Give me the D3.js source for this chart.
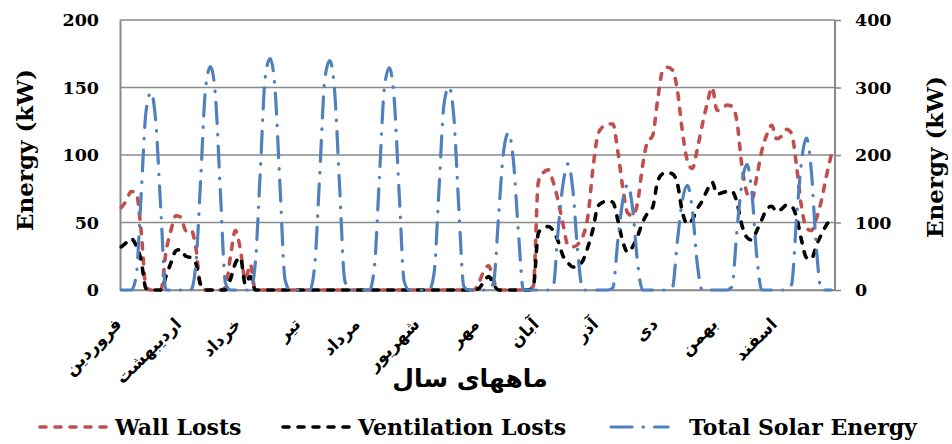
<!DOCTYPE html>
<html>
<head>
<meta charset="utf-8">
<script src="https://cdn.jsdelivr.net/npm/d3@7"></script>
<style>
  html, body { margin: 0; padding: 0; background: #fff; }
  svg { display: block; }
</style>
</head>
<body>
<svg id="chart" width="952" height="444"></svg>
<script>
// ---------- DATA ----------
const months = ["فروردین","اردیبهشت","خرداد","تیر","مرداد","شهریور","مهر","آبان","آذر","دی","بهمن","اسفند"];
const hours = [0,2,4,6,8,10,12,14,16,18,20,22];
const leftTicks = [0,50,100,150,200];
const rightTicks = [0,100,200,300,400];
const seriesNames = ["Wall Losts","Ventilation Losts","Total Solar Energy"];
const xTitle = "ماههای سال";
const yTitle = "Energy (kW)";

// Wall Losts (kW, left axis), 12 samples per month
const wallLosts = [
  61,66,73,72,44,2,0,0,0,28,44,55,
  54,44,45,32,3,0,0,0,0,2,25,44,
  30,7,19,0,0,0,0,0,0,0,0,0,
  0,0,0,0,0,0,0,0,0,0,0,0,
  0,0,0,0,0,0,0,0,0,0,0,0,
  0,0,0,0,0,0,0,0,0,0,0,0,
  5,14,18,7,0,0,0,0,0,0,0,3,
  80,87,89,80,66,48,33,32,34,40,55,90,
  115,121,123,123,103,76,57,55,65,92,110,114,
  140,162,165,163,148,118,96,90,104,122,138,150,
  133,134,137,136,125,92,72,67,84,103,115,122,
  112,114,119,116,92,62,46,44,53,66,84,100
];
// Ventilation Losts (kW, left axis)
const ventilationLosts = [
  32,35,38,33,22,1,0,0,0,10,20,29,
  30,25,24,20,4,0,0,0,0,0,8,20,
  24,4,10,0,0,0,0,0,0,0,0,0,
  0,0,0,0,0,0,0,0,0,0,0,0,
  0,0,0,0,0,0,0,0,0,0,0,0,
  0,0,0,0,0,0,0,0,0,0,0,0,
  1,6,10,4,0,0,0,0,0,0,0,3,
  42,46,47,44,36,25,20,17,18,22,32,45,
  62,65,66,65,52,36,28,32,40,50,57,61,
  80,86,87,86,79,58,49,52,60,66,74,80,
  71,72,73,73,65,48,39,37,44,52,60,62,
  58,60,63,62,54,37,24,23,33,41,48,53
];
// Total Solar Energy (kW, right axis)
const solarEnergy = [
  0,0,0,20,140,265,293,245,115,0,0,0,
  0,0,0,35,165,300,331,285,140,10,0,0,
  0,0,0,40,175,315,343,295,150,15,0,0,
  0,0,0,40,175,312,340,292,150,15,0,0,
  0,0,0,35,168,300,329,280,140,12,0,0,
  0,0,0,25,150,275,301,255,120,5,0,0,
  0,0,0,12,110,205,233,190,85,0,0,0,
  0,0,0,5,90,158,187,145,50,0,0,0,
  0,0,0,3,72,132,156,120,40,0,0,0,
  0,0,0,3,72,132,155,120,40,0,0,0,
  0,0,0,5,88,158,186,145,50,0,0,0,
  0,0,0,8,105,190,225,175,62,0,0,0
];

// ---------- CHART ----------
const svg = d3.select("#chart");
const X0 = 120, X1 = 835, Y0 = 20, Y1 = 290;
const x = d3.scaleLinear().domain([0, months.length * 24]).range([X0, X1]);
const yL = d3.scaleLinear().domain([0, 200]).range([Y1, Y0]);
const yR = d3.scaleLinear().domain([0, 400]).range([Y1, Y0]);
const gridColor = "#8a8a8a";

// gridlines
svg.append("g").selectAll("line").data(leftTicks).join("line")
  .attr("x1", X0).attr("x2", X1)
  .attr("y1", d => yL(d)).attr("y2", d => yL(d))
  .attr("stroke", gridColor).attr("stroke-width", 1.6);

// left axis
const gL = svg.append("g").attr("transform", `translate(${X0},0)`)
  .call(d3.axisLeft(yL).tickValues(leftTicks).tickSize(0).tickPadding(21));
gL.select(".domain").attr("stroke", gridColor).attr("stroke-width", 2);
gL.selectAll("text").attr("font-family", "DejaVu Serif").attr("font-weight", "bold")
  .attr("font-size", 17.5).attr("fill", "#000");

// right axis
const gR = svg.append("g").attr("transform", `translate(${X1},0)`)
  .call(d3.axisRight(yR).tickValues(rightTicks).tickSize(6).tickPadding(14));
gR.select(".domain").attr("stroke", gridColor).attr("stroke-width", 2).attr("d", `M0,${Y0}V${Y1}`);
gR.selectAll(".tick line").attr("stroke", gridColor).attr("stroke-width", 1.6);
gR.selectAll("text").attr("font-family", "DejaVu Serif").attr("font-weight", "bold")
  .attr("font-size", 17.5).attr("fill", "#000");

// bottom axis (category labels rotated)
const gB = svg.append("g").attr("transform", `translate(0,${Y1})`)
  .call(d3.axisBottom(x).tickValues(months.map((m, i) => i * 24)).tickFormat((d, i) => months[i]).tickSize(0));
gB.select(".domain").attr("stroke", gridColor).attr("stroke-width", 1.6);
gB.selectAll(".tick text")
  .attr("font-family", "DejaVu Sans").attr("font-weight", "bold").attr("font-size", 17).attr("fill", "#000")
  .attr("text-anchor", "end").attr("dy", "0.35em")
  .attr("transform", "translate(-2,31) rotate(-45)")
  .attr("y", 0).attr("x", 0);

// axis titles
svg.append("text").attr("transform", "translate(33,150) rotate(-90)")
  .attr("text-anchor", "middle").attr("font-family", "DejaVu Serif").attr("font-weight", "bold")
  .attr("font-size", 23).text(yTitle);
svg.append("text").attr("transform", "translate(943,157) rotate(-90)")
  .attr("text-anchor", "middle").attr("font-family", "DejaVu Serif").attr("font-weight", "bold")
  .attr("font-size", 23).text(yTitle);
svg.append("text").attr("x", 470).attr("y", 387)
  .attr("text-anchor", "middle").attr("font-family", "DejaVu Sans").attr("font-weight", "bold")
  .attr("font-size", 25).text(xTitle);

// lines
const xPos = i => x(Math.floor(i / hours.length) * 24 + hours[i % hours.length] + 0.5);
const lineL = d3.line().x((d, i) => xPos(i)).y(d => yL(d)).curve(d3.curveMonotoneX);
const lineR = d3.line().x((d, i) => xPos(i)).y(d => yR(d)).curve(d3.curveMonotoneX);

const styles = [
  { color: "#C0504D", dash: "6,9", width: 3.6 },
  { color: "#000000", dash: "6,9", width: 3.6 },
  { color: "#4F81BD", dash: "21,11,0.5,11", width: 3.2 }
];

svg.append("path").attr("d", lineL(wallLosts)).attr("fill", "none")
  .attr("stroke", styles[0].color).attr("stroke-width", styles[0].width)
  .attr("stroke-dasharray", styles[0].dash).attr("stroke-linecap", "round");
svg.append("path").attr("d", lineL(ventilationLosts)).attr("fill", "none")
  .attr("stroke", styles[1].color).attr("stroke-width", styles[1].width)
  .attr("stroke-dasharray", styles[1].dash).attr("stroke-linecap", "round");
svg.append("path").attr("d", lineR(solarEnergy)).attr("fill", "none")
  .attr("stroke", styles[2].color).attr("stroke-width", styles[2].width)
  .attr("stroke-dasharray", styles[2].dash).attr("stroke-linecap", "round");

// legend
const legendPos = [
  { lx: 40, len: 70, tx: 115 },
  { lx: 283, len: 72, tx: 358 },
  { lx: 611, len: 57, tx: 689 }
];
const lg = svg.append("g");
seriesNames.forEach((name, i) => {
  const p = legendPos[i], s = styles[i];
  lg.append("line").attr("x1", p.lx).attr("x2", p.lx + p.len).attr("y1", 427).attr("y2", 427)
    .attr("stroke", s.color).attr("stroke-width", s.width)
    .attr("stroke-dasharray", s.dash).attr("stroke-linecap", "round");
  lg.append("text").attr("x", p.tx).attr("y", 435)
    .attr("font-family", "DejaVu Serif").attr("font-weight", "bold").attr("font-size", 22)
    .text(name);
});
</script>
</body>
</html>
